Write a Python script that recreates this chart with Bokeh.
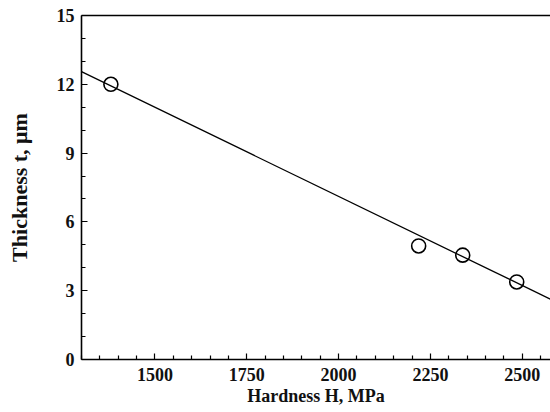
from bokeh.plotting import figure
from bokeh.models import LinearAxis, FixedTicker, Range1d
from bokeh.embed import file_html
from bokeh.resources import INLINE

# data
hardness = [1380, 2218, 2338, 2485]
thickness = [12.0, 4.95, 4.55, 3.38]
fit_x = [1300, 2600]
fit_y = [12.55, 2.45]

x_major = [1500, 1750, 2000, 2250, 2500]
x_minor = [1300, 1350, 1400, 1450, 1550, 1600, 1650, 1700, 1800, 1850, 1900, 1950,
           2050, 2100, 2150, 2200, 2300, 2350, 2400, 2450, 2550]
y_major = [0, 3, 6, 9, 12, 15]
y_minor = [1, 2, 4, 5, 7, 8, 10, 11, 13, 14]

x_title = "Hardness H, MPa"
y_title = "Thickness t, μm"

FONT = "Liberation Serif"
TXT = "#111111"

p = figure(width=550, height=412, output_backend="svg", toolbar_location=None,
           x_range=Range1d(1300, 2577), y_range=Range1d(0, 15),
           min_border_left=81, min_border_right=0, min_border_top=15, min_border_bottom=53)
p.grid.visible = False
p.outline_line_color = None
p.background_fill_color = "white"
p.border_fill_color = "white"

# fit line and markers
p.line(fit_x, fit_y, line_color="black", line_width=1.3)
p.scatter(hardness, thickness, marker="circle", size=14, fill_color=None,
          line_color="black", line_width=1.6)

for ax in (p.xaxis[0], p.yaxis[0]):
    ax.axis_line_color = "black"
    ax.axis_line_width = 1.6
    ax.major_tick_in = 6
    ax.major_tick_out = 0
    ax.minor_tick_in = 4
    ax.minor_tick_out = 0
    ax.major_tick_line_width = 1.2
    ax.minor_tick_line_width = 1.2
    ax.major_label_text_font = FONT
    ax.major_label_text_font_style = "bold"
    ax.major_label_text_font_size = "18px"
    ax.major_label_text_color = TXT
    ax.axis_label_text_font = FONT
    ax.axis_label_text_font_style = "bold"
    ax.axis_label_text_color = TXT

p.xaxis[0].ticker = FixedTicker(ticks=x_major, minor_ticks=x_minor)
p.yaxis[0].ticker = FixedTicker(ticks=y_major, minor_ticks=y_minor)
p.xaxis[0].major_label_standoff = 8
p.yaxis[0].major_label_standoff = 7
p.xaxis[0].axis_label = x_title
p.yaxis[0].axis_label = y_title
p.xaxis[0].axis_label_text_font_size = "18px"
p.yaxis[0].axis_label_text_font_size = "22px"
p.xaxis[0].axis_label_standoff = 2
p.yaxis[0].axis_label_standoff = 22

top = LinearAxis(ticker=FixedTicker(ticks=[]), axis_line_color="black", axis_line_width=1.6,
                 major_label_text_font_size="0px", major_tick_line_color=None,
                 minor_tick_line_color=None)
p.add_layout(top, "above")

open("out.html", "w").write(file_html(p, INLINE))
